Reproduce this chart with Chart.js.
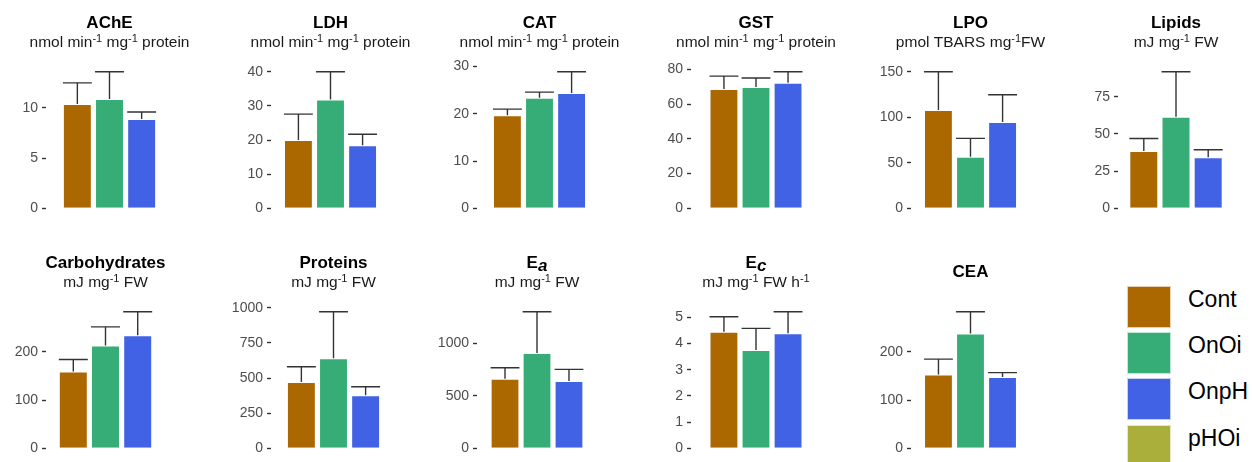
<!DOCTYPE html>
<html>
<head>
<meta charset="utf-8">
<script src="https://cdn.jsdelivr.net/npm/chart.js@4.4.1/dist/chart.umd.min.js"></script>
<style>
  html, body { margin: 0; padding: 0; background: #fff; overflow: hidden; width: 1252px; height: 462px; }
  #wrap { position: relative; width: 1252px; height: 462px; }
  #wrap canvas { position: absolute; }
  .key { position: absolute; left: 1127px; width: 44px; height: 42px; box-sizing: border-box; border: 1px solid rgba(255,255,255,0.7); }
  .key-label { position: absolute; left: 1188px; height: 42px; line-height: 42px; font: 23px 'Liberation Sans', Arial, sans-serif; color: #000; }
</style>
</head>
<body>
<div id="wrap"></div>
<script>
// panel titles ( _{x} = italic subscript ) and units ( {x} = superscript )
const panelNames = ['AChE', 'LDH', 'CAT', 'GST', 'LPO', 'Lipids',
                    'Carbohydrates', 'Proteins', 'E_{a}', 'E_{c}', 'CEA'];
const panelUnits = ['nmol min{-1} mg{-1} protein', 'nmol min{-1} mg{-1} protein',
                    'nmol min{-1} mg{-1} protein', 'nmol min{-1} mg{-1} protein',
                    'pmol TBARS mg{-1}FW', 'mJ mg{-1} FW',
                    'mJ mg{-1} FW', 'mJ mg{-1} FW', 'mJ mg{-1} FW', 'mJ mg{-1} FW h{-1}', ''];

const treatments = ['Cont', 'OnOi', 'OnpH', 'pHOi'];
const treatmentColors = ['#AB6700', '#36AD76', '#4162E4', '#AAAF3C'];

// means and error (upper bar) per treatment, one value per panel
const contMean = [10.4, 20.0, 19.7, 68.7, 108, 38.5, 159.4, 472, 663, 4.45, 153];
const contErr  = [2.1,  7.6,  1.3,  7.4,  42,  8.5,  24.6,  108, 105, 0.57, 32];
const onoiMean = [10.9, 31.9, 23.4, 69.8, 56.7, 61.6, 213, 640, 908, 3.75, 238];
const onoiErr  = [2.7,  8.1,  1.2,  5.2,  20.2, 30.2, 38.7, 331, 393, 0.83, 45];
const onphMean = [8.9,  18.5, 24.4, 72.3, 94.8, 34.3, 234, 377, 641, 4.39, 148];
const onphErr  = [0.7,  3.2,  4.5,  6.3,  30,   5.1,  48.8, 61,  111, 0.82, 9];

const tickSteps = [5, 10, 10, 20, 50, 25, 100, 250, 500, 1, 100];

// layout: left edge and width of each plot panel
const panelLeft  = [45.7, 270.7, 477.3, 690.7, 911, 1118, 46, 270.7, 477.3, 690.7, 911];
const panelWidth = [127.2, 119.4, 125.4, 130.6, 119.4, 116, 119, 125.3, 120.8, 130.6, 119.6];

const FONT = "'Liberation Sans', Arial, sans-serif";
Chart.defaults.font.family = FONT;

const axisW = 44, rightPad = 26, slot = 32.2;

function parseRich(str) {
  const parts = [];
  const re = /(_?)\{([^}]*)\}|([^{_]+)/g;
  let m;
  while ((m = re.exec(str))) {
    if (m[3]) parts.push({ t: m[3], kind: 'normal' });
    else parts.push({ t: m[2], kind: m[1] ? 'sub' : 'sup' });
  }
  return parts;
}

function drawRich(ctx, str, cx, baseline, weight, size, color) {
  const parts = parseRich(str);
  const fontOf = p => {
    if (p.kind === 'sup') return `${weight} 11px ${FONT}`;
    if (p.kind === 'sub') return `italic bold ${size}px ${FONT}`;
    return `${weight} ${size}px ${FONT}`;
  };
  let total = 0;
  parts.forEach(p => { ctx.font = fontOf(p); p.w = ctx.measureText(p.t).width; total += p.w; });
  let x = cx - total / 2;
  ctx.fillStyle = color;
  ctx.textAlign = 'left';
  ctx.textBaseline = 'alphabetic';
  parts.forEach(p => {
    ctx.font = fontOf(p);
    const dy = p.kind === 'sup' ? -4.5 : (p.kind === 'sub' ? 3 : 0);
    ctx.fillText(p.t, x, baseline + dy);
    x += p.w;
  });
}

const errorBars = {
  id: 'errorBars',
  afterDatasetsDraw(chart) {
    const ctx = chart.ctx, y = chart.scales.y;
    ctx.save();
    ctx.strokeStyle = '#333';
    ctx.lineWidth = 1.4;
    chart.data.datasets.forEach((ds, i) => {
      const bar = chart.getDatasetMeta(i).data[0];
      const top = y.getPixelForValue(ds.data[0] + ds.err[0]);
      ctx.beginPath();
      ctx.moveTo(bar.x, bar.y);
      ctx.lineTo(bar.x, top);
      ctx.moveTo(bar.x - bar.width / 2, top);
      ctx.lineTo(bar.x + bar.width / 2, top);
      ctx.stroke();
    });
    ctx.restore();
  }
};

const panelTitles = {
  id: 'panelTitles',
  afterDraw(chart, args, opts) {
    const ctx = chart.ctx, a = chart.chartArea;
    const cx = (a.left + a.right) / 2;
    ctx.save();
    drawRich(ctx, opts.title, cx, opts.unit ? 28 : 36.7, 'bold', 17, '#000');
    if (opts.unit) drawRich(ctx, opts.unit, cx, 46.5, 'normal', 15.5, '#1a1a1a');
    ctx.restore();
  }
};

const wrap = document.getElementById('wrap');
const means = [contMean, onoiMean, onphMean];
const errs = [contErr, onoiErr, onphErr];

panelNames.forEach((name, i) => {
  const W = panelWidth[i];
  const canvas = document.createElement('canvas');
  canvas.width = axisW + W + rightPad;
  canvas.height = 222;
  canvas.style.left = (panelLeft[i] - axisW) + 'px';
  canvas.style.top = (i < 6 ? 0 : 240) + 'px';
  wrap.appendChild(canvas);

  const maxTop = Math.max(...means.map((m, k) => m[i] + errs[k][i]));
  const step = tickSteps[i];

  new Chart(canvas, {
    type: 'bar',
    data: {
      labels: [name],
      datasets: means.map((m, k) => ({
        label: treatments[k],
        data: [m[i]],
        err: [errs[k][i]],
        backgroundColor: treatmentColors[k],
        borderColor: 'rgba(255,255,255,0.35)',
        borderWidth: 1,
        categoryPercentage: 3 * slot / W,
        barPercentage: 0.9
      }))
    },
    options: {
      responsive: false,
      animation: false,
      devicePixelRatio: 1,
      layout: { padding: { top: 65, bottom: 13.7, left: 0, right: rightPad } },
      plugins: {
        legend: { display: false },
        tooltip: { enabled: false },
        panelTitles: { title: name, unit: panelUnits[i] }
      },
      scales: {
        x: { display: false },
        y: {
          min: 0,
          max: maxTop * 1.05,
          afterFit(scale) { scale.width = axisW; },
          afterBuildTicks(scale) {
            const ticks = [];
            for (let v = 0; v <= scale.max + 1e-9; v += step) ticks.push({ value: v });
            scale.ticks = ticks;
          },
          grid: { drawOnChartArea: false, tickLength: 4, tickWidth: 1.4, tickColor: '#333' },
          border: { display: false },
          ticks: {
            padding: 4,
            color: '#4d4d4d',
            font: { size: 14 },
            callback: v => String(v)
          }
        }
      }
    },
    plugins: [errorBars, panelTitles]
  });
});

// legend
treatments.forEach((t, k) => {
  const top = 285.7 + k * 46.3;
  const sw = document.createElement('div');
  sw.className = 'key';
  sw.style.top = top + 'px';
  sw.style.background = treatmentColors[k];
  wrap.appendChild(sw);
  const lab = document.createElement('div');
  lab.className = 'key-label';
  lab.style.top = top + 'px';
  lab.textContent = t;
  wrap.appendChild(lab);
});
</script>
</body>
</html>
